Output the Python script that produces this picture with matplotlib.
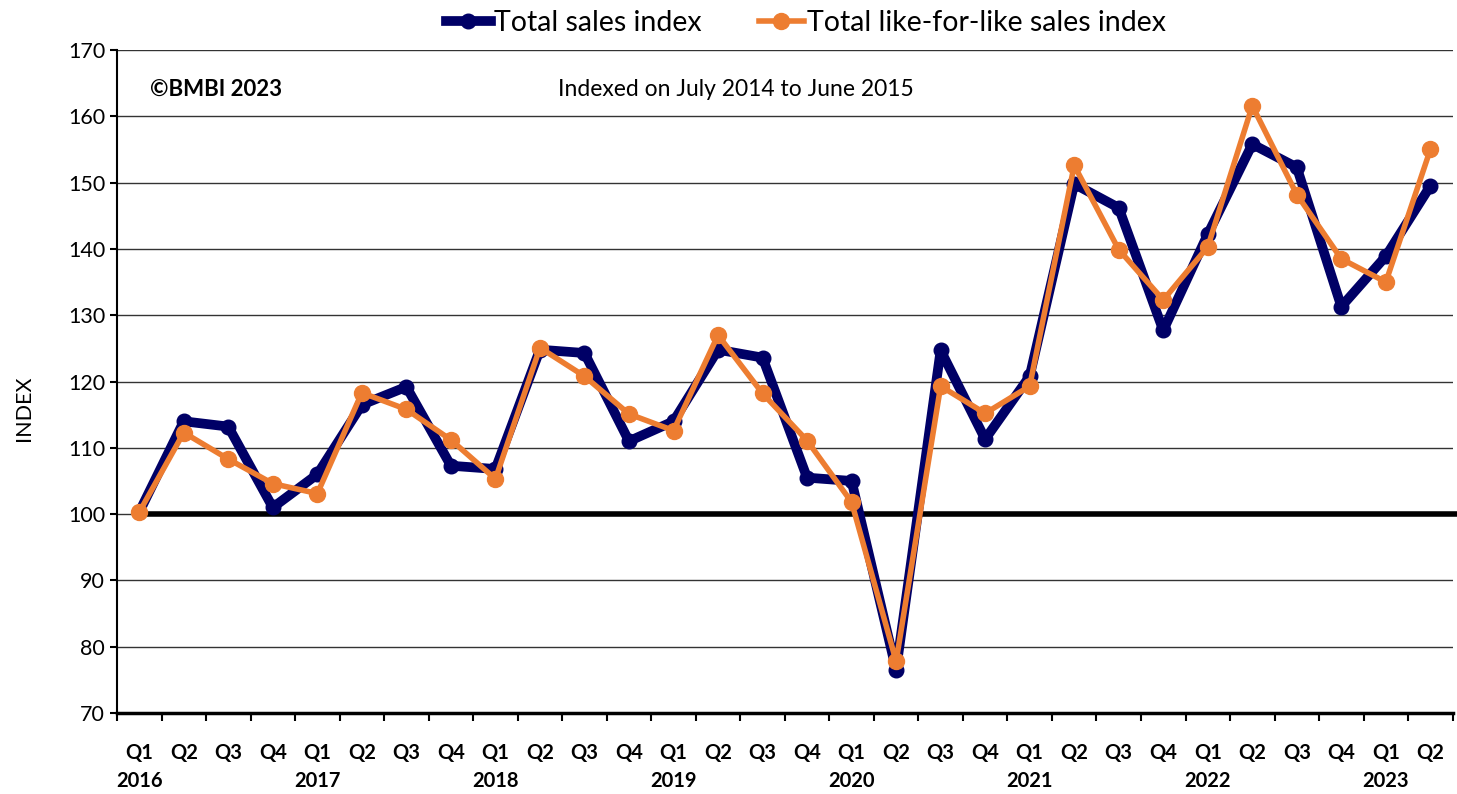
import matplotlib.pyplot as plt
import numpy as np

quarters = ["Q1", "Q2", "Q3", "Q4"] * 7 + ["Q1", "Q2"]
years = ["2016", "2017", "2018", "2019", "2020", "2021", "2022", "2023"]

total_sales = [100.3, 114.0, 113.2, 101.0, 106.0, 116.5, 119.2, 107.3,
               106.8, 124.8, 124.3, 111.0, 114.0, 124.8, 123.6, 105.5,
               105.0, 76.5, 124.7, 111.3, 120.8, 149.8, 146.2, 127.7,
               142.2, 155.8, 152.3, 131.3, 138.9, 149.5]
lfl_sales = [100.3, 112.3, 108.3, 104.6, 103.1, 118.3, 115.8, 111.2,
             105.3, 125.1, 120.8, 115.1, 112.6, 127.0, 118.2, 111.1,
             101.8, 77.8, 119.3, 115.2, 119.3, 152.6, 139.9, 132.3,
             140.3, 161.6, 148.2, 138.5, 135.0, 155.0]

plt.rcParams['font.family'] = ['Lato', 'DejaVu Sans']

fig = plt.figure(figsize=(14.57, 7.94), dpi=100)
ax = fig.add_axes([0.0803, 0.102, 0.9167, 0.835])

x = np.arange(len(total_sales))

# gridlines
for v in range(80, 171, 10):
    ax.axhline(v, color='#333333', lw=1.0, zorder=1)

# baseline at 100
ax.plot([0, 30.5], [100, 100], color='black', lw=4, zorder=2, clip_on=False,
        solid_capstyle='butt')

ax.plot(x, total_sales, color='#000066', lw=7, marker='o', markersize=10.5,
        label='Total sales index', zorder=3)
ax.plot(x, lfl_sales, color='#ED7D31', lw=4, marker='o', markersize=11.5,
        label='Total like-for-like sales index', zorder=4)

ax.set_xlim(-0.5, len(x) - 0.5)
ax.set_ylim(70, 170)
ax.set_yticks(range(70, 171, 10))
ax.tick_params(axis='y', labelsize=15.5, length=5, width=1.5, direction='out')

# x ticks at category boundaries
ax.set_xticks(np.arange(-0.5, len(x), 1.0))
ax.set_xticklabels([])
ax.tick_params(axis='x', length=6, width=1.5, direction='in')
for t in ax.xaxis.get_major_ticks():
    t.tick1line.set_marker(3)  # downward tick below axis line

for i, q in enumerate(quarters):
    ax.text(i, -0.06, q, transform=ax.get_xaxis_transform(), ha='center',
            va='center', fontsize=14.5, fontweight='bold')
for j, yr in enumerate(years):
    ax.text(j * 4, -0.102, yr, transform=ax.get_xaxis_transform(), ha='center',
            va='center', fontsize=14.5, fontweight='bold')

for s in ['top', 'right']:
    ax.spines[s].set_visible(False)
ax.spines['left'].set_linewidth(1.5)
ax.spines['bottom'].set_linewidth(2.5)

ax.set_ylabel('INDEX', fontsize=15.5)
ax.yaxis.set_label_coords(-0.062, 0.46)

ax.text(0.025, 0.94, '©BMBI 2023', transform=ax.transAxes, fontsize=16,
        fontweight='bold', va='center')
ax.text(0.463, 0.94, 'Indexed on July 2014 to June 2015', transform=ax.transAxes,
        fontsize=16.5, va='center', ha='center')

fig.legend(loc='upper center', bbox_to_anchor=(0.553, 1.02), ncol=2,
           frameon=False, fontsize=20.5, handlelength=1.6, columnspacing=2.0,
           handletextpad=0.1)

fig.savefig('out.png', dpi=100)
